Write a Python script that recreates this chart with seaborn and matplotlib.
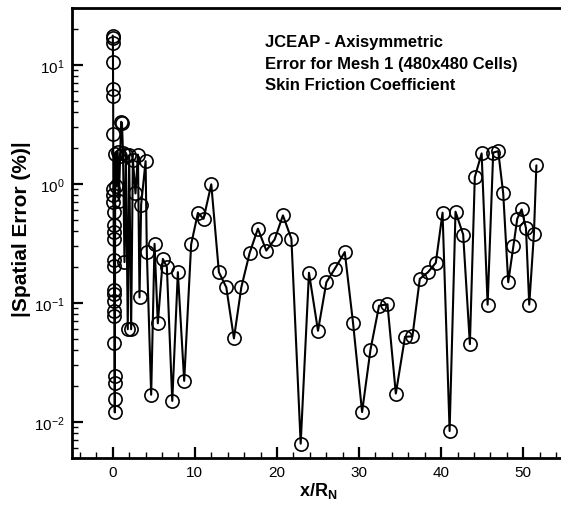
import numpy as np
import pandas as pd
import matplotlib
matplotlib.use("Agg")
import matplotlib.pyplot as plt
import seaborn as sns
from matplotlib.ticker import FixedLocator, LogLocator, NullFormatter, FixedFormatter, MultipleLocator

# Surface positions along the body (x/R_N), nose cluster first
x_pos = [
    0.00, 0.01, 0.02, 0.03, 0.04, 0.05, 0.06, 0.07, 0.08, 0.09, 0.10, 0.11, 0.12,
    0.13, 0.14, 0.15, 0.16, 0.17, 0.18, 0.19, 0.20, 0.21, 0.22, 0.23, 0.24, 0.25,
    0.30, 0.45, 0.60, 0.75, 0.90, 1.02, 1.12, 1.25, 1.43, 1.60, 1.83, 2.00, 2.24,
    2.45, 2.77, 3.07, 3.26, 3.46, 4.00, 4.15, 4.68, 5.09, 5.49, 6.10, 6.59, 7.25,
    7.93, 8.70, 9.55, 10.37, 11.06, 12.00, 12.93, 13.83, 14.76, 15.66, 16.67,
    17.68, 18.70, 19.72, 20.73, 21.76, 22.89, 23.90, 25.00, 26.02, 27.04, 28.26,
    29.27, 30.37, 31.39, 32.44, 33.46, 34.48, 35.60, 36.50, 37.40, 38.40, 39.35,
    40.17, 41.03, 41.75, 42.68, 43.50, 44.10, 44.93, 45.66, 46.34, 46.95, 47.56,
    48.17, 48.80, 49.27, 49.80, 50.33, 50.73, 51.30, 51.60,
]

# Absolute spatial error of the skin friction coefficient (%)
spatial_error = [
    17.6, 16.7, 15.1, 10.5, 6.3, 5.5, 2.6, 0.91, 0.80, 0.70, 0.58, 0.45, 0.39,
    0.345, 0.227, 0.203, 0.127, 0.119, 0.104, 0.086, 0.077, 0.046, 0.0244, 0.0214,
    0.0155, 0.012,
    1.79, 0.95, 1.85, 0.72, 1.70, 3.32, 3.25, 1.83, 0.22, 1.75, 0.06, 1.74, 0.06,
    1.60, 0.83, 1.76, 0.111, 0.67, 1.55, 0.267, 0.0169, 0.313, 0.0673, 0.234,
    0.200, 0.0150, 0.181, 0.0221, 0.310, 0.569, 0.509, 0.99, 0.181, 0.135, 0.0503,
    0.135, 0.262, 0.42, 0.275, 0.341, 0.543, 0.345, 0.00656, 0.179, 0.0583, 0.149,
    0.193, 0.267, 0.0677, 0.0121, 0.0403, 0.0947, 0.0973, 0.0173, 0.0519, 0.0522,
    0.159, 0.181, 0.217, 0.572, 0.00838, 0.583, 0.375, 0.0450, 1.14, 1.80, 0.0966,
    1.83, 1.88, 0.83, 0.149, 0.300, 0.509, 0.61, 0.425, 0.0966, 0.38, 1.43,
]

title_lines = [
    "JCEAP - Axisymmetric",
    "Error for Mesh 1 (480x480 Cells)",
    "Skin Friction Coefficient",
]
y_major = [1e-2, 1e-1, 1e0, 1e1]
y_major_labels = [r"$\mathregular{10^{-2}}$", r"$\mathregular{10^{-1}}$",
                  r"$\mathregular{10^{0}}$", r"$\mathregular{10^{1}}$"]

sns.set_style("ticks")
plt.rcParams["font.family"] = ["Liberation Sans", "DejaVu Sans"]
plt.rcParams["mathtext.fontset"] = "custom"
plt.rcParams["mathtext.rm"] = "Liberation Sans"
plt.rcParams["mathtext.bf"] = "Liberation Sans:bold"
plt.rcParams["text.color"] = "black"
plt.rcParams["axes.labelcolor"] = "black"

df = pd.DataFrame({"x": x_pos, "err": spatial_error})

W, H = 561, 506
fig = plt.figure(figsize=(W / 100, H / 100), dpi=100)
left, right, top, bottom = 71.7, 564.3, 9.0, 458.7
ax = fig.add_axes([left / W, 1 - bottom / H, (right - left) / W, (bottom - top) / H])

sns.lineplot(data=df, x="x", y="err", ax=ax, sort=False, estimator=None,
             color="black", linewidth=1.5, marker="o", markersize=9.5,
             markerfacecolor="none", markeredgecolor="black", markeredgewidth=1.2)

ax.set_yscale("log")
ax.set_xlim(-5, 55)
ax.set_ylim(5e-3, 30)

ax.xaxis.set_major_locator(MultipleLocator(10))
ax.xaxis.set_minor_locator(MultipleLocator(2))
ax.yaxis.set_major_locator(FixedLocator(y_major))
ax.yaxis.set_major_formatter(FixedFormatter(y_major_labels))
ax.yaxis.set_minor_locator(LogLocator(base=10, subs=np.arange(2, 10), numticks=20))
ax.yaxis.set_minor_formatter(NullFormatter())

ax.tick_params(which="major", direction="in", length=8, width=1.6, labelsize=11, pad=5,
               color="black", labelcolor="black")
ax.tick_params(which="minor", direction="in", length=4, width=1.0, color="black")
for s in ax.spines.values():
    s.set_linewidth(2.0)
    s.set_color("black")

ax.set_xlabel(r"x/R$_{\mathbf{N}}$", fontsize=13, fontweight="bold", labelpad=1)
ax.set_ylabel("|Spatial Error (%)|", fontsize=15, fontweight="bold")
ax.yaxis.set_label_coords(-0.082, 0.51)

for i, line in enumerate(title_lines):
    fig.text(265 / W, 1 - (43 + 21.5 * i) / H, line, fontsize=12, fontweight="bold",
             ha="left", va="center", color="black")

fig.savefig("out.png", dpi=100)
